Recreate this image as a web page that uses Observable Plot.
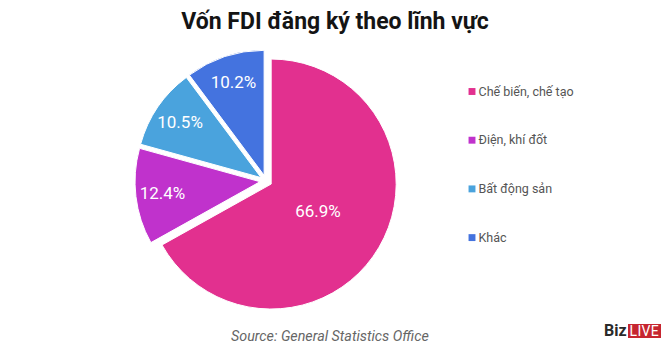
<!DOCTYPE html>
<html>
<head>
<meta charset="utf-8">
<script src="https://cdn.jsdelivr.net/npm/d3@7"></script>
<script src="https://cdn.jsdelivr.net/npm/@observablehq/plot@0.6"></script>
<style>
  body { margin: 0; background: #fff; font-family: Roboto, "Noto Sans", sans-serif; }
  #wrap { position: relative; width: 670px; height: 351px; overflow: hidden; background: #fff; }
  #title { position: absolute; left: 0; top: 0; width: 670px; text-align: center; font-weight: 700;
           font-size: 23px; line-height: 44px; color: #141414; }
  #chart { position: absolute; left: 0; top: 44px; }
  #source { position: absolute; left: 231px; top: 328px; font-style: italic; font-size: 14.3px; color: #666; }
  #logo { position: absolute; left: 604px; top: 323px; height: 16px; display: flex; align-items: center; }
  #logo .biz { font-weight: 700; font-size: 16px; color: #2a2a2a; line-height: 16px; }
  #logo .live { background: #c62630; color: #fff; font-size: 14px; line-height: 14px; padding: 0 2px; height: 14px; margin-left: 1px; letter-spacing: 0.3px; }
</style>
</head>
<body>
<div id="wrap">
  <div id="title">Vốn FDI đăng ký theo lĩnh vực</div>
  <div id="chart"></div>
  <div id="source">Source: General Statistics Office</div>
  <div id="logo"><span class="biz">Biz</span><span class="live">LIVE</span></div>
</div>
<script>
// ---- data ----
const categories = ["Chế biến, chế tạo", "Điện, khí đốt", "Bất động sản", "Khác"];
const shares = [66.9, 12.4, 10.5, 10.2];
const labels = ["66.9%", "12.4%", "10.5%", "10.2%"];
const colors = ["#e2308f", "#c032cc", "#4aa3dd", "#4473df"];

// ---- layout (pixels) ----
const W = 670, H = 270;
const R_PX = 125, CX_PX = 266, CY_PX = 137;   // pie radius and centre
const EXPLODE = 6 / R_PX;                       // slice offset, in radius units
const LEG_SQ_PX = 471.5, LEG_TXT_PX = 478, LEG_Y0_PX = 47, LEG_STEP_PX = 48.7;
const toX = px => (px - CX_PX) / R_PX;
const toY = py => (CY_PX - py) / R_PX;

const rows = categories.map((c, i) => ({category: c, share: shares[i], label: labels[i], i}));
const arcs = d3.pie().value(d => d.share).sort(null)(rows);
const mid = a => (a.startAngle + a.endAngle) / 2;
const offX = a => EXPLODE * Math.sin(mid(a));
const offY = a => EXPLODE * Math.cos(mid(a));
const labelFrac = a => a.data.share > 50 ? 0.43 : 0.79;
const labelRows = arcs.map(a => ({
  label: a.data.label,
  x: offX(a) + labelFrac(a) * Math.sin(mid(a)),
  y: offY(a) + labelFrac(a) * Math.cos(mid(a))
}));

function pieSlices(...args) {
  const scales = args.find(s => s && typeof s.x === "function" && typeof s.y === "function");
  const {x, y} = scales;
  const color = typeof scales.color === "function" ? scales.color : (c => colors[categories.indexOf(c)]);
  const k = x(1) - x(0);
  const arc = d3.arc().innerRadius(0).outerRadius(k);
  const g = d3.create("svg:g");
  g.selectAll("path").data(arcs).join("path")
    .attr("transform", a => `translate(${x(offX(a))},${y(offY(a))})`)
    .attr("d", arc)
    .attr("fill", a => color(a.data.category))
    .attr("stroke", "#fff")
    .attr("stroke-width", 1);
  return g.node();
}

const chart = Plot.plot({
  width: W,
  height: H,
  margin: 0,
  style: {fontFamily: "Roboto, 'Noto Sans', sans-serif", background: "white"},
  x: {axis: null, domain: [toX(0), toX(W)]},
  y: {axis: null, domain: [toY(H), toY(0)]},
  color: {domain: categories, range: colors},
  marks: [
    pieSlices,
    Plot.text(labelRows, {x: "x", y: "y", text: "label", fill: "white", fontSize: 17}),
    Plot.dot(rows, {
      x: () => toX(LEG_SQ_PX),
      y: d => toY(LEG_Y0_PX + d.i * LEG_STEP_PX),
      symbol: "square", r: 3.9, fill: "category", stroke: null
    }),
    Plot.text(rows, {
      x: () => toX(LEG_TXT_PX),
      y: d => toY(LEG_Y0_PX + d.i * LEG_STEP_PX),
      text: "category", textAnchor: "start", fill: "#555", fontSize: 12.5
    })
  ]
});
document.getElementById("chart").appendChild(chart);
</script>
</body>
</html>
